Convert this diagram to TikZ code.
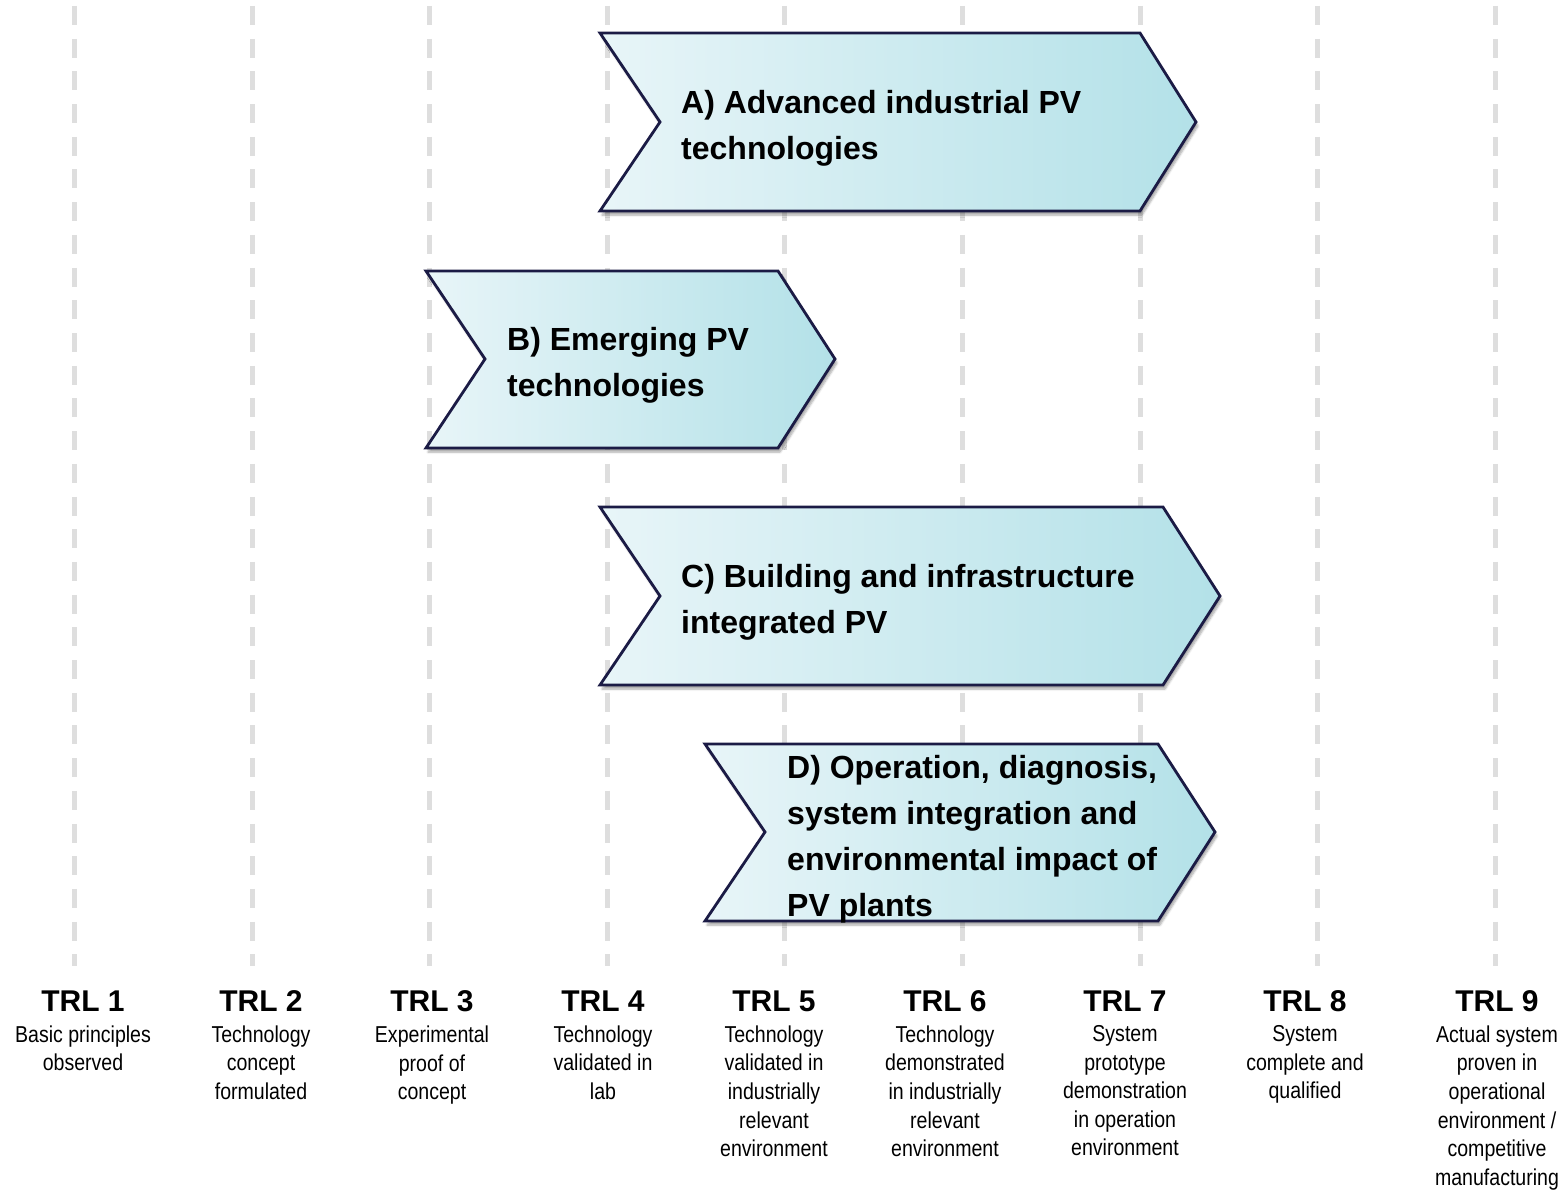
\documentclass[tikz,border=0pt]{standalone}
\usepackage{fontspec}
\setmainfont{Liberation Sans}
\newfontfamily\narrowfont[FakeStretch=0.85]{Liberation Sans}
\usetikzlibrary{positioning,shadows.blur}
\definecolor{chevfill1}{HTML}{E8F5F8}
\definecolor{chevfill2}{HTML}{B3E1E8}
\definecolor{chevline}{HTML}{1B1B45}
\definecolor{gridgray}{HTML}{DEDEDE}
\tikzset{
  trlline/.style={gridgray, line width=5pt, dash pattern=on 19pt off 13.7pt},
  chevron/.style={draw=chevline, line width=2.8pt, line join=miter, left color=chevfill1, right color=chevfill2,
    blur shadow={shadow xshift=2pt, shadow yshift=-4pt, shadow blur steps=6, shadow opacity=35}},
  chevtext/.style={anchor=west, inner sep=0pt, align=left, font=\fontsize{32}{46}\selectfont\bfseries},
  trlhead/.style={inner sep=0pt, font=\fontsize{30}{36}\selectfont\bfseries},
  trldesc/.style={below=14pt of #1, inner sep=0pt, align=center, font=\narrowfont\fontsize{23}{28.6}\selectfont}
}
\begin{document}
\begin{tikzpicture}[x=1pt, y=-1pt]
            \useasboundingbox (0,0) rectangle (1566,1190);
            % dashed TRL guides
            \draw [trlline] (74.5,6) -- (74.5,966);
            \draw [trlline] (252.1,6) -- (252.1,966);
            \draw [trlline] (429.7,6) -- (429.7,966);
            \draw [trlline] (607.3,6) -- (607.3,966);
            \draw [trlline] (784.9,6) -- (784.9,966);
            \draw [trlline] (962.5,6) -- (962.5,966);
            \draw [trlline] (1140.1,6) -- (1140.1,966);
            \draw [trlline] (1317.7,6) -- (1317.7,966);
            \draw [trlline] (1495.3,6) -- (1495.3,966);
            % chevrons
            \draw [chevron] (600,33) -- (1140,33) -- (1196,122) -- (1140,211) -- (600,211) -- (660,122) -- cycle;
            \draw [chevron] (426,271) -- (778,271) -- (835,359) -- (778,448) -- (426,448) -- (485,359) -- cycle;
            \draw [chevron] (600,507) -- (1163,507) -- (1220,596) -- (1163,685) -- (600,685) -- (660,596) -- cycle;
            \draw [chevron] (705,744) -- (1158,744) -- (1215,832) -- (1158,921) -- (705,921) -- (765,832) -- cycle;
            \node [chevtext] (fieldA) at (681,128) {A) Advanced industrial PV\\technologies};
            \node [chevtext] (fieldB) at (507,365) {B) Emerging PV\\technologies};
            \node [chevtext] (fieldC) at (681,602) {C) Building and infrastructure\\integrated PV};
            \node [chevtext] (fieldD) at (787,839) {D) Operation, diagnosis,\\system integration and\\environmental impact of\\PV plants};
            % TRL scale
            \node [trlhead, anchor=base] (trl1) at (83,1011) {TRL 1};
            \node [trlhead, anchor=base] (trl2) at (261,1011) {TRL 2};
            \node [trlhead, anchor=base] (trl3) at (432,1011) {TRL 3};
            \node [trlhead, anchor=base] (trl4) at (603,1011) {TRL 4};
            \node [trlhead, anchor=base] (trl5) at (774,1011) {TRL 5};
            \node [trlhead, anchor=base] (trl6) at (945,1011) {TRL 6};
            \node [trlhead, anchor=base] (trl7) at (1125,1011) {TRL 7};
            \node [trlhead, anchor=base] (trl8) at (1305,1011) {TRL 8};
            \node [trlhead, anchor=base] (trl9) at (1497,1011) {TRL 9};
            \node [trldesc=trl1] (desc1) {Basic principles\\observed};
            \node [trldesc=trl2] (desc2) {Technology\\concept\\formulated};
            \node [trldesc=trl3] (desc3) {Experimental\\proof of\\concept};
            \node [trldesc=trl4] (desc4) {Technology\\validated in\\lab};
            \node [trldesc=trl5] (desc5) {Technology\\validated in\\industrially\\relevant\\environment};
            \node [trldesc=trl6] (desc6) {Technology\\demonstrated\\in industrially\\relevant\\environment};
            \node [trldesc=trl7] (desc7) {System\\prototype\\demonstration\\in operation\\environment};
            \node [trldesc=trl8] (desc8) {System\\complete and\\qualified};
            \node [trldesc=trl9] (desc9) {Actual system\\proven in\\operational\\environment /\\competitive\\manufacturing};
\end{tikzpicture}
\end{document}
